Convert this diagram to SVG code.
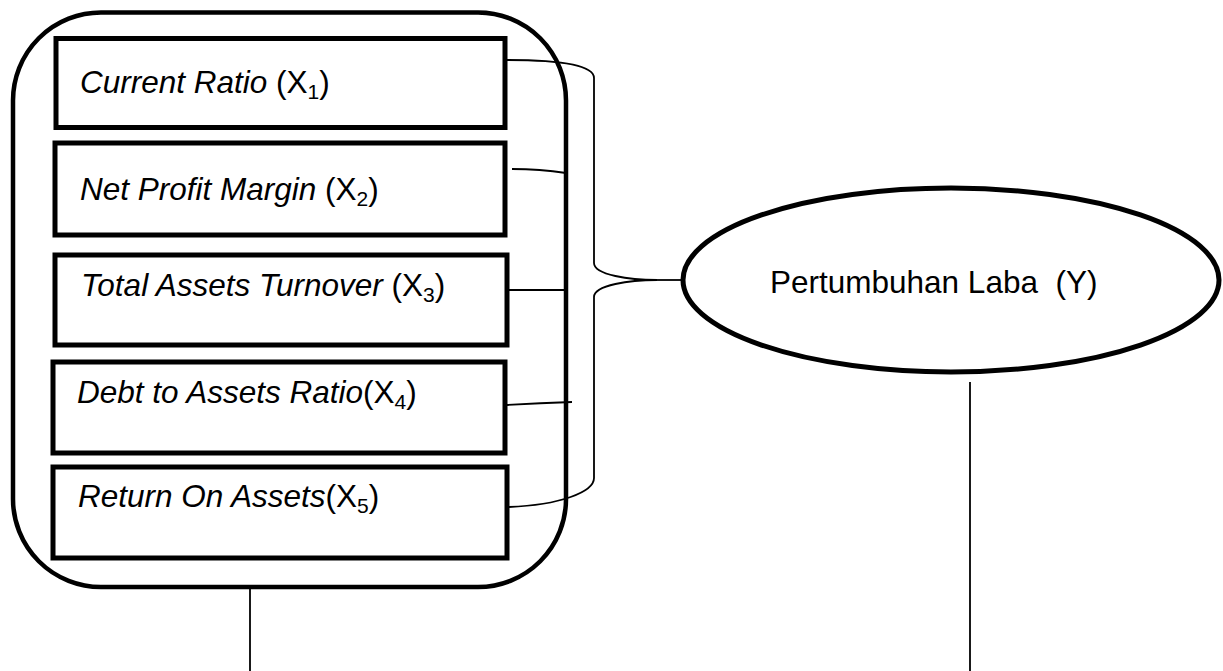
<svg xmlns="http://www.w3.org/2000/svg" width="1223" height="671" viewBox="0 0 1223 671">
<style>
.box{fill:#fff;stroke:#000;stroke-width:5}
.outer{fill:#fff;stroke:#000;stroke-width:4.5}
.lbl{font-family:"Liberation Sans",Arial,sans-serif;font-size:31.5px;fill:#000;white-space:pre}
.it{font-style:italic}
.sub{font-size:21px}
.con{fill:none;stroke:#000;stroke-width:1.8}
</style>
<rect width="1223" height="671" fill="#fff"/>
<g id="group-x">
<rect class="outer" x="13" y="12.5" width="553" height="574.5" rx="88" ry="88"/>
</g>
<g id="x1">
<rect class="box" x="56" y="38.5" width="449" height="89"/>
<text class="lbl" x="80" y="93"><tspan class="it">Current Ratio</tspan> (X<tspan class="sub" dy="6">1</tspan><tspan dy="-6">)</tspan></text>
</g>
<g id="x2">
<rect class="box" x="55" y="143" width="450" height="92"/>
<text class="lbl" x="80" y="200"><tspan class="it">Net Profit Margin</tspan> (X<tspan class="sub" dy="6">2</tspan><tspan dy="-6">)</tspan></text>
</g>
<g id="x3">
<rect class="box" x="55" y="255" width="452" height="90"/>
<text class="lbl" x="81" y="296"><tspan class="it">Total Assets Turnover</tspan> (X<tspan class="sub" dy="6">3</tspan><tspan dy="-6">)</tspan></text>
</g>
<g id="x4">
<rect class="box" x="53" y="362" width="452" height="91"/>
<text class="lbl" x="77" y="403"><tspan class="it">Debt to Assets Ratio</tspan>(X<tspan class="sub" dy="6">4</tspan><tspan dy="-6">)</tspan></text>
</g>
<g id="x5">
<rect class="box" x="53" y="467" width="454" height="91"/>
<text class="lbl" x="78" y="507"><tspan class="it">Return On Assets</tspan>(X<tspan class="sub" dy="6">5</tspan><tspan dy="-6">)</tspan></text>
</g>
<g id="connectors">
<path class="con" d="M507,60 C560,60 594,65 594,78 L594,263 C594,275 630,280 657,280 C630,280 594,285 594,297 L594,478 C594,492 560,505 509,507"/>
<path class="con" d="M657,280 L683,280"/>
<path class="con" d="M512,169 Q540,169 566,173"/>
<path class="con" d="M508,290 L566,290"/>
<path class="con" d="M507,405 Q540,403 572,402"/>
<path class="con" d="M250,587 L250,671"/>
<path class="con" d="M970,382 L970,671"/>
</g>
<g id="y">
<ellipse class="box" cx="951" cy="280" rx="268" ry="92"/>
<text class="lbl" x="770" y="293" xml:space="preserve">Pertumbuhan Laba  (Y)</text>
</g>
</svg>
